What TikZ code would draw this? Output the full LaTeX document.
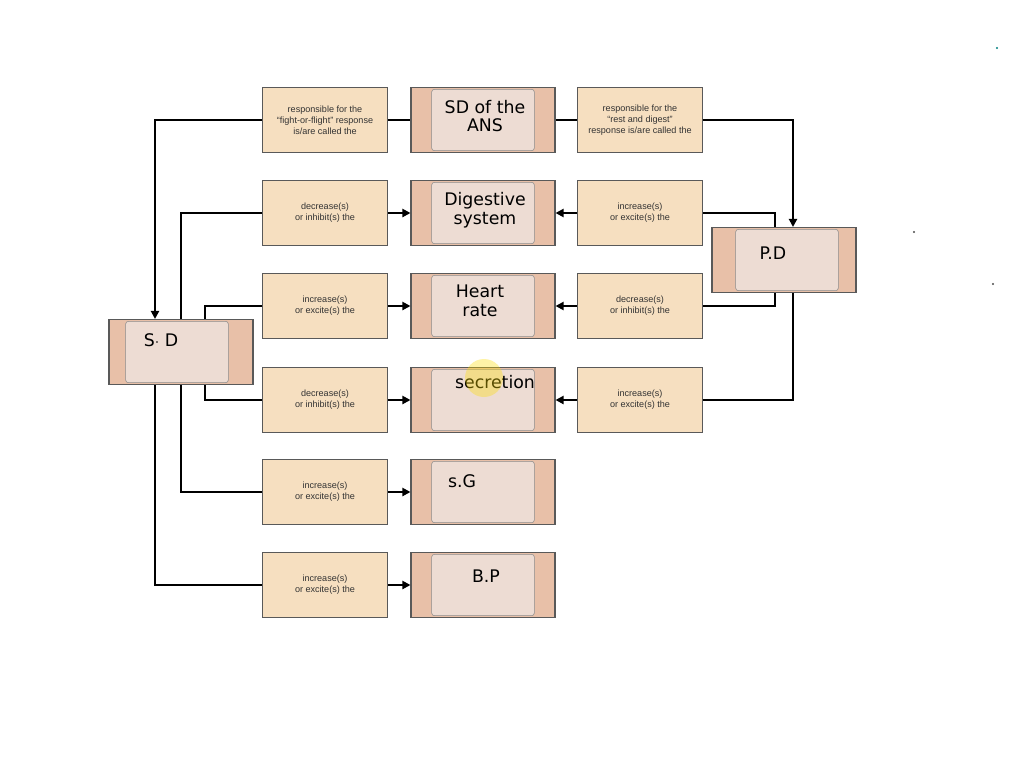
\documentclass[tikz,border=0pt]{standalone}
\usepackage{fontspec}
\setmainfont{Liberation Sans}
\newfontfamily\hand{DejaVu Sans}
\usetikzlibrary{arrows.meta}
\begin{document}
\begin{tikzpicture}[x=0.75pt,y=-0.75pt,
  lab/.style={draw=black!65,fill=labfill,line width=0.8pt,minimum width=93.75pt,minimum height=48.75pt,inner sep=0pt,align=center,font=\fontsize{6.8}{8.2}\selectfont\color{black!80}},
  outer/.style={draw=black!65,fill=outfill,line width=0.8pt,minimum width=108pt,minimum height=48.75pt,inner sep=0pt},
  inner/.style={draw=black!45,fill=infill,rounded corners=2pt,minimum width=77pt,minimum height=46pt,inner sep=0pt},
  htxt/.style={font=\hand\fontsize{13}{14}\selectfont,align=center},
  con/.style={line width=1.6pt},
  arr/.style={con,-{Triangle[length=6pt,width=6pt]}}]
\definecolor{labfill}{HTML}{F6DFC0}
\definecolor{outfill}{HTML}{E8C0A8}
\definecolor{infill}{HTML}{EDDCD3}
\useasboundingbox[fill=white] (0,0) rectangle (1024,768);
% left labels
\node[lab] (l1) at (325,120) {responsible for the\\``fight-or-flight'' response\\is/are called the};
\node[lab] (l2) at (325,213) {decrease(s)\\or inhibit(s) the};
\node[lab] (l3) at (325,306) {increase(s)\\or excite(s) the};
\node[lab] (l4) at (325,400) {decrease(s)\\or inhibit(s) the};
\node[lab] (l5) at (325,492) {increase(s)\\or excite(s) the};
\node[lab] (l6) at (325,585) {increase(s)\\or excite(s) the};
% right labels
\node[lab] (r1) at (640,120) {responsible for the\\``rest and digest''\\response is/are called the};
\node[lab] (r2) at (640,213) {increase(s)\\or excite(s) the};
\node[lab] (r3) at (640,306) {decrease(s)\\or inhibit(s) the};
\node[lab] (r4) at (640,400) {increase(s)\\or excite(s) the};
% middle boxes
\foreach \n/\y in {m1/120,m2/213,m3/306,m4/400,m5/492,m6/585}{
  \node[outer] (\n) at (483,\y) {};
  \node[inner] at (483,\y) {};
}
\node[outer] (sd) at (181,352) {};
\node[inner] at (177,352) {};
\node[outer] (pd) at (784,260) {};
\node[inner] at (787,260) {};
% handwritten texts
\node[htxt] at (485,116) {SD of the\\ANS};
\node[htxt] at (485,210) {Digestive\\system};
\node[htxt] at (480,301) {Heart\\rate};
\node[htxt] at (495,382) {secretion};
\node[htxt] at (462,481) {s.G};
\node[htxt] at (486,576) {B.P};
\node[htxt] at (161,340) {S$\cdot$ D};
\node[htxt] at (773,253) {P.D};
% highlight
\fill[yellow!80!orange,opacity=0.35] (484,378) circle (19);
% connectors
\draw[con] (l1.east) -- (m1.west);
\draw[con] (m1.east) -- (r1.west);
\draw[arr] (l1.west) -| (sd.north -| 155,0);
\draw[arr] (r1.east) -| (pd.north -| 793,0);
\draw[con] (sd.north -| 181,0) |- (l2.west);
\draw[con] (sd.north -| 205,0) |- (l3.west);
\draw[con] (sd.south -| 205,0) |- (l4.west);
\draw[con] (sd.south -| 181,0) |- (l5.west);
\draw[con] (sd.south -| 155,0) |- (l6.west);
\draw[con] (pd.north -| 775,0) |- (r2.east);
\draw[con] (pd.south -| 775,0) |- (r3.east);
\draw[con] (pd.south -| 793,0) |- (r4.east);
\foreach \i in {2,...,6}{\draw[arr] (l\i.east) -- (m\i.west);}
\foreach \i in {2,3,4}{\draw[arr] (r\i.west) -- (m\i.east);}
% stray dots
\fill[teal] (997,48) circle (1.2);
\fill[black!70] (914,232) circle (1.2);
\fill[black!70] (993,284) circle (1.2);
\end{tikzpicture}
\end{document}
